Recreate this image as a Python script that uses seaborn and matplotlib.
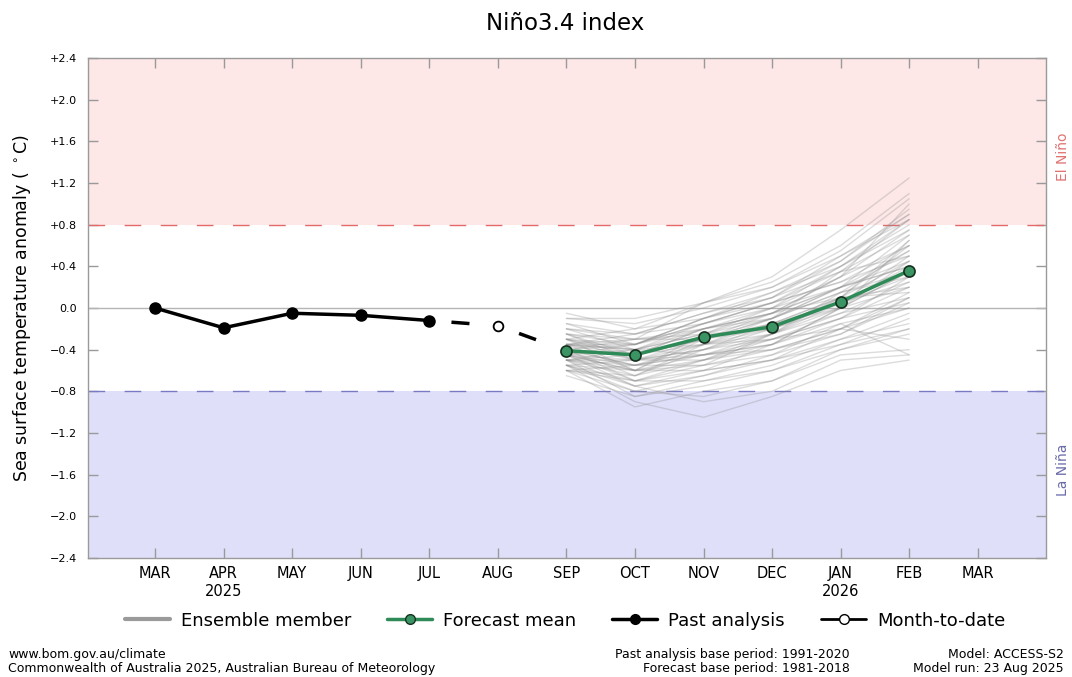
import pandas as pd
import matplotlib
matplotlib.use("Agg")
import matplotlib.pyplot as plt
from matplotlib.lines import Line2D
import seaborn as sns

# month axis: MAR 2025 .. MAR 2026
month_labels = ["MAR", "APR\n2025", "MAY", "JUN", "JUL", "AUG", "SEP",
                "OCT", "NOV", "DEC", "JAN\n2026", "FEB", "MAR"]
y_ticks = [2.4, 2.0, 1.6, 1.2, 0.8, 0.4, 0.0, -0.4, -0.8, -1.2, -1.6, -2.0, -2.4]
y_tick_labels = ["+2.4", "+2.0", "+1.6", "+1.2", "+0.8", "+0.4", "0.0",
                 "\u22120.4", "\u22120.8", "\u22121.2", "\u22121.6", "\u22122.0", "\u22122.4"]

past_months = ["MAR", "APR", "MAY", "JUN", "JUL"]
past_values = [0.00, -0.19, -0.05, -0.07, -0.12]

mtd_month = "AUG"
mtd_value = -0.17

fc_months = ["SEP", "OCT", "NOV", "DEC", "JAN", "FEB"]
fc_mean = [-0.41, -0.45, -0.28, -0.18, 0.06, 0.36]

# ensemble members (SEP .. FEB)
ensemble = [
    [-0.30, -0.35, -0.10, 0.05, 0.40, 0.80],
    [-0.45, -0.60, -0.50, -0.40, -0.20, 0.10],
    [-0.35, -0.40, -0.20, -0.05, 0.30, 0.60],
    [-0.50, -0.55, -0.45, -0.30, -0.05, 0.25],
    [-0.20, -0.25, -0.05, 0.10, 0.45, 0.95],
    [-0.55, -0.70, -0.60, -0.50, -0.35, -0.20],
    [-0.40, -0.45, -0.30, -0.15, 0.10, 0.45],
    [-0.10, -0.15, 0.00, 0.20, 0.55, 1.05],
    [-0.60, -0.80, -0.85, -0.70, -0.45, -0.40],
    [-0.35, -0.50, -0.35, -0.25, 0.00, 0.35],
    [-0.45, -0.35, -0.15, 0.05, 0.25, 0.50],
    [-0.25, -0.30, -0.25, -0.10, 0.15, 0.30],
    [-0.50, -0.65, -0.40, -0.30, -0.10, 0.20],
    [-0.40, -0.55, -0.55, -0.45, -0.25, 0.05],
    [-0.30, -0.20, 0.05, 0.30, 0.75, 1.25],
    [-0.55, -0.60, -0.30, -0.20, 0.05, 0.40],
    [-0.45, -0.75, -0.90, -0.80, -0.50, -0.45],
    [-0.35, -0.45, -0.20, 0.00, 0.20, 0.70],
    [-0.20, -0.40, -0.35, -0.20, 0.10, 0.15],
    [-0.60, -0.55, -0.45, -0.35, -0.15, 0.00],
    [-0.40, -0.30, -0.20, -0.10, 0.35, 0.85],
    [-0.50, -0.45, -0.35, -0.30, -0.20, -0.30],
    [-0.30, -0.50, -0.40, -0.15, 0.00, 0.45],
    [-0.45, -0.60, -0.25, -0.05, 0.20, 0.55],
    [-0.65, -0.85, -0.70, -0.55, -0.30, -0.05],
    [-0.15, -0.25, -0.15, 0.05, 0.25, 0.60],
    [-0.35, -0.40, -0.45, -0.25, 0.15, 0.35],
    [-0.55, -0.90, -1.05, -0.85, -0.60, -0.50],
    [-0.40, -0.70, -0.55, -0.40, -0.25, 0.10],
    [-0.25, -0.35, -0.10, 0.10, 0.50, 0.90],
    [-0.50, -0.50, -0.40, -0.20, 0.05, 0.30],
    [-0.35, -0.60, -0.45, -0.35, 0.00, 0.20],
    [-0.45, -0.40, -0.25, -0.20, 0.00, 0.65],
    [-0.30, -0.45, -0.30, -0.05, 0.30, 1.00],
    [-0.55, -0.75, -0.65, -0.45, -0.15, -0.45],
    [-0.40, -0.35, -0.10, 0.15, 0.40, 0.75],
    [-0.05, -0.20, -0.10, 0.10, 0.35, 0.50],
    [-0.60, -0.70, -0.50, -0.25, -0.05, 0.10],
    [-0.50, -0.85, -0.75, -0.60, -0.35, -0.10],
    [-0.35, -0.30, 0.05, 0.25, 0.60, 1.10],
    [-0.25, -0.45, -0.30, -0.10, 0.20, 0.40],
    [-0.45, -0.55, -0.35, -0.10, 0.15, 0.55],
    [-0.30, -0.60, -0.60, -0.50, -0.30, -0.15],
    [-0.50, -0.40, -0.15, 0.00, 0.30, 0.75],
    [-0.40, -0.65, -0.50, -0.30, -0.10, 0.30],
    [-0.35, -0.25, -0.05, 0.15, 0.45, 0.90],
    [-0.55, -0.80, -0.65, -0.50, -0.20, 0.15],
    [-0.15, -0.35, -0.20, -0.05, 0.20, 0.45],
    [-0.45, -0.50, -0.45, -0.40, -0.20, 0.00],
    [-0.60, -0.65, -0.35, -0.15, 0.10, 0.60],
    [-0.20, -0.30, -0.30, -0.15, 0.05, 0.25],
    [-0.40, -0.55, -0.40, -0.25, 0.05, 0.50],
    [-0.50, -0.75, -0.60, -0.35, 0.00, 0.35],
    [-0.35, -0.35, -0.15, 0.05, 0.35, 0.70],
    [-0.45, -0.70, -0.70, -0.60, -0.40, -0.25],
    [-0.30, -0.40, -0.25, 0.00, 0.40, 0.85],
    [-0.55, -0.50, -0.30, -0.10, 0.20, 0.40],
    [-0.25, -0.50, -0.50, -0.35, -0.10, 0.05],
    [-0.40, -0.45, -0.20, -0.05, 0.10, 0.20],
    [-0.50, -0.60, -0.55, -0.25, 0.10, 0.65],
    [-0.60, -0.95, -0.80, -0.70, -0.40, -0.20],
    [-0.10, -0.10, 0.05, 0.20, 0.50, 0.85],
]

month_pos = {m.split("\n")[0]: i for i, m in enumerate(month_labels[:-1])}

sns.set_style("white")
plt.rcParams["font.family"] = ["DejaVu Sans"]
plt.rcParams["text.color"] = "black"
plt.rcParams["xtick.color"] = "black"
plt.rcParams["ytick.color"] = "black"

fig = plt.figure(figsize=(10.72, 6.77), dpi=100)
ax = fig.add_axes([0.082, 0.176, 0.894, 0.738])

# El Nino / La Nina zones
ax.axhspan(0.8, 2.4, color="#fde7e7", lw=0, zorder=0)
ax.axhspan(-2.4, -0.8, color="#dfdffa", lw=0, zorder=0)
ax.axhline(0.8, color="#e46a6a", lw=1, dashes=(12, 14), zorder=1)
ax.axhline(-0.8, color="#7a7ac4", lw=1, dashes=(12, 14), zorder=1)
ax.axhline(0.0, color="#b5b5b5", lw=1, zorder=1)

# ensemble members
ens_rows = []
for k, member in enumerate(ensemble):
    for m, v in zip(fc_months, member):
        ens_rows.append({"member": k, "pos": month_pos[m], "anom": v})
ens_df = pd.DataFrame(ens_rows)
sns.lineplot(data=ens_df, x="pos", y="anom", units="member", estimator=None,
             color="#8c8c8c", alpha=0.3, lw=1, legend=False, ax=ax, zorder=2)

# dashed link: last analysis -> month-to-date -> first forecast
link_x = [month_pos["JUL"], month_pos[mtd_month], month_pos["SEP"]]
link_y = [past_values[-1], mtd_value, fc_mean[0]]
ax.plot(link_x, link_y, color="black", lw=2.5,
        linestyle=(13.5, (5.2, 14.7)), zorder=3)

# past analysis
sns.lineplot(x=[month_pos[m] for m in past_months], y=past_values, color="black",
             lw=2.5, marker="o", markersize=8, markeredgecolor="black",
             markeredgewidth=1, ax=ax, zorder=4)

# month to date
ax.plot([month_pos[mtd_month]], [mtd_value], marker="o", markersize=7,
        markerfacecolor="white", markeredgecolor="black", markeredgewidth=1.3,
        ls="none", zorder=5)

# forecast mean
sns.lineplot(x=[month_pos[m] for m in fc_months], y=fc_mean, color="#2e8b57",
             lw=2.5, marker="o", markersize=8, markerfacecolor="#3a9463",
             markeredgecolor="#16301f", markeredgewidth=1.2, ax=ax, zorder=6)

ax.set_xlim(-0.98, 13.0)
ax.set_ylim(-2.4, 2.4)
ax.set_xticks(range(len(month_labels)))
ax.set_xticklabels(month_labels, fontsize=10.5)
ax.set_yticks(y_ticks)
ax.set_yticklabels(y_tick_labels, fontsize=8)
ax.set_xlabel("")
ax.set_ylabel("")
ax.tick_params(axis="both", direction="in", length=7, width=1, color="#9a9a9a",
               labelcolor="black", top=True, right=True, bottom=True, left=True, pad=6)
ax.tick_params(axis="y", pad=8)
for sp in ax.spines.values():
    sp.set_color("#9a9a9a")
    sp.set_linewidth(1)

ax.text(1.017, 1.45, "El Ni\u00f1o", transform=ax.get_yaxis_transform(),
        rotation=90, color="#e07272", fontsize=10, ha="center", va="center")
ax.text(1.017, -1.55, "La Ni\u00f1a", transform=ax.get_yaxis_transform(),
        rotation=90, color="#6a6aaa", fontsize=10, ha="center", va="center")

fig.text(0.527, 0.966, "Ni\u00f1o3.4 index", fontsize=16.5, ha="center", va="center")
fig.text(0.0205, 0.545, r"Sea surface temperature anomaly ( $^\circ$C)", fontsize=12.5,
         rotation=90, ha="center", va="center")

handles = [
    Line2D([], [], color="#9a9a9a", lw=3),
    Line2D([], [], color="#2e8b57", lw=2.5, marker="o", markersize=7,
           markerfacecolor="#3a9463", markeredgecolor="#16301f"),
    Line2D([], [], color="black", lw=2.5, marker="o", markersize=7),
    Line2D([], [], color="black", lw=2, marker="o", markersize=7,
           markerfacecolor="white", markeredgecolor="black"),
]
labels = ["Ensemble member", "Forecast mean", "Past analysis", "Month-to-date"]
fig.legend(handles, labels, loc="center", bbox_to_anchor=(0.527, 0.083), ncol=4,
           frameon=False, fontsize=13, handlelength=2.5, handletextpad=0.6,
           columnspacing=2.0, numpoints=1)

fig.text(0.0075, 0.0225, "www.bom.gov.au/climate\n"
         "Commonwealth of Australia 2025, Australian Bureau of Meteorology",
         fontsize=9, ha="left", va="center", linespacing=1.1)
fig.text(0.793, 0.0225, "Past analysis base period: 1991-2020\n"
         "Forecast base period: 1981-2018",
         fontsize=9, ha="right", va="center", multialignment="right", linespacing=1.1)
fig.text(0.992, 0.0225, "Model: ACCESS-S2\nModel run: 23 Aug 2025",
         fontsize=9, ha="right", va="center", multialignment="right", linespacing=1.1)

fig.savefig("out.png", dpi=100)
